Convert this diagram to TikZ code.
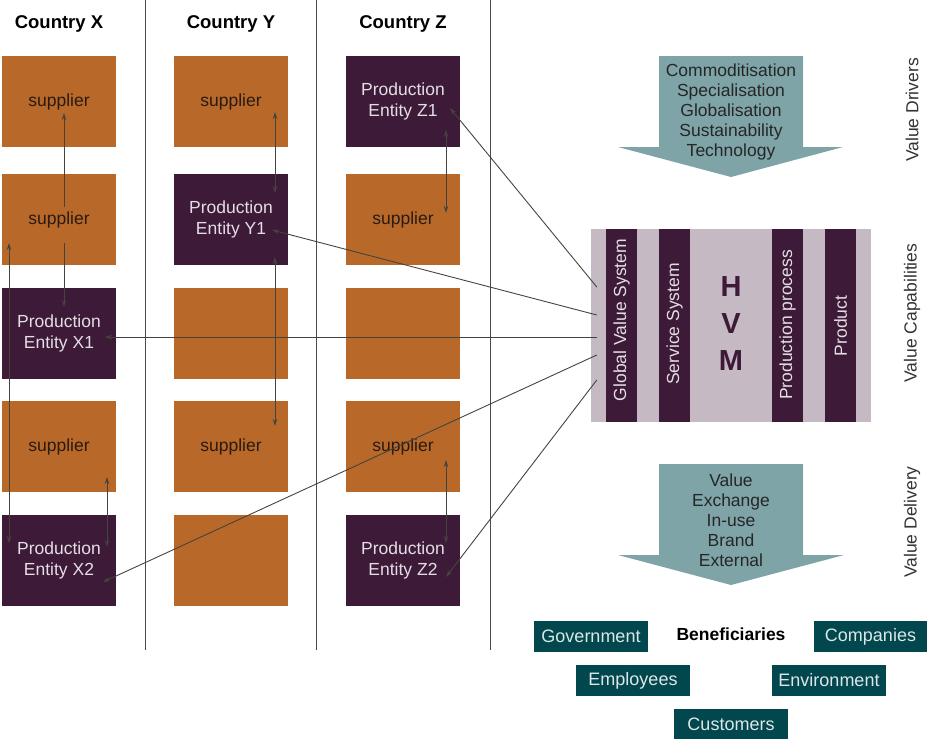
\documentclass[tikz,border=0pt]{standalone}
\usepackage{fontspec}
\setmainfont{Liberation Sans}
\usetikzlibrary{arrows.meta,calc}
\definecolor{orng}{HTML}{B8692A}
\definecolor{purp}{HTML}{3D1A38}
\definecolor{tealA}{HTML}{7FA4A8}
\definecolor{tealD}{HTML}{02464E}
\definecolor{lav}{HTML}{C5BAC3}
\definecolor{conn}{HTML}{45443C}
\definecolor{divc}{HTML}{4A4A4A}
\definecolor{supt}{HTML}{2A1A10}
\definecolor{entt}{HTML}{E4DEE4}
\definecolor{bent}{HTML}{DCE8E8}
\begin{document}
\begin{tikzpicture}[x=1pt,y=-1pt,
  base/.style={inner sep=0pt, minimum width=114pt, minimum height=91pt, align=center, font=\fontsize{17.5}{21}\selectfont},
  supbox/.style={base, fill=orng, text=supt},
  entbox/.style={base, fill=purp, text=entt},
  head/.style={font=\fontsize{18.5}{21}\selectfont\bfseries, text=black},
  side/.style={rotate=90, font=\fontsize{17.5}{20}\selectfont, text=black!80},
  stripe/.style={rotate=90, fill=purp, inner sep=0pt, minimum width=193pt, minimum height=31pt},
  stext/.style={rotate=90, text=entt, inner sep=0pt, font=\fontsize{17.5}{20}\selectfont},
  benbox/.style={fill=tealD, text=bent, inner sep=0pt, minimum width=114pt, minimum height=31pt, font=\fontsize{18}{21}\selectfont},
  atext/.style={align=center, text=black!85, font=\fontsize{17.5}{20}\selectfont},
  divider/.style={draw=divc, line width=1pt},
  one/.style={draw=conn, line width=0.9pt, -{Stealth[length=7pt,width=4.5pt]}},
  two/.style={draw=conn, line width=0.9pt, {Stealth[length=7pt,width=4.5pt]}-{Stealth[length=7pt,width=4.5pt]}}
]
\useasboundingbox (0,0) rectangle (927,742);

% dividers
\coordinate (d1t) at (145,0); \coordinate (d1b) at (145,650);
\coordinate (d2t) at (316,0); \coordinate (d2b) at (316,650);
\coordinate (d3t) at (490,0); \coordinate (d3b) at (490,650);
\draw[divider] (d1t) -- (d1b);
\draw[divider] (d2t) -- (d2b);
\draw[divider] (d3t) -- (d3b);

% headers
\node[head] (hx) at (59,24) {Country X};
\node[head] (hy) at (231,24) {Country Y};
\node[head] (hz) at (403,24) {Country Z};

% column X
\node[supbox] (s1x) at (59,101.5) {supplier};
\node[supbox] (s2x) at (59,219.5) {supplier};
\node[entbox] (ex1) at (59,333.5) {Production\\Entity X1};
\node[supbox] (s4x) at (59,446.5) {supplier};
\node[entbox] (ex2) at (59,560.5) {Production\\Entity X2};
% column Y
\node[supbox] (s1y) at (231,101.5) {supplier};
\node[entbox] (ey1) at (231,219.5) {Production\\Entity Y1};
\node[supbox] (b3y) at (231,333.5) {};
\node[supbox] (s4y) at (231,446.5) {supplier};
\node[supbox] (b5y) at (231,560.5) {};
% column Z
\node[entbox] (ez1) at (403,101.5) {Production\\Entity Z1};
\node[supbox] (s2z) at (403,219.5) {supplier};
\node[supbox] (b3z) at (403,333.5) {};
\node[supbox] (s4z) at (403,446.5) {supplier};
\node[entbox] (ez2) at (403,560.5) {Production\\Entity Z2};

% HVM panel
\node[fill=lav, inner sep=0pt, minimum width=280pt, minimum height=193pt] (hvm) at (731,325.5) {};
\node[stripe] (gvs) at (621.5,325.5) {};
\node[stripe] (svs) at (674.5,325.5) {};
\node[stripe] (ppr) at (787.5,325.5) {};
\node[stripe] (prd) at (840.5,325.5) {};
\node[stext] (gvst) at (621.5,320) {Global Value System};
\node[stext] (svst) at (674.5,324) {Service System};
\node[stext] (pprt) at (787.5,325) {Production process};
\node[stext] (prdt) at (840.5,326) {Product};
\node[font=\fontsize{29}{37}\selectfont\bfseries, text=purp, align=center] (hvmt) at (731,324) {H\\V\\M};

% value drivers arrow
\fill[tealA] (659,56) -- (803,56) -- (803,147) -- (843,147) -- (731,177) -- (618,147) -- (659,147) -- cycle;
\node[atext] (vd) at (731,112) {Commoditisation\\Specialisation\\Globalisation\\Sustainability\\Technology};
% value delivery arrow
\fill[tealA] (659,464) -- (803,464) -- (803,555) -- (844,555) -- (731,585) -- (618,555) -- (659,555) -- cycle;
\node[atext] (vdl) at (731,520) {Value\\Exchange\\In-use\\Brand\\External};

% side labels
\node[side] (sl1) at (912,110) {Value Drivers};
\node[side] (sl2) at (912,313) {Value Capabilities};
\node[side] (sl3) at (912,522) {Value Delivery};

% beneficiaries
\node[font=\fontsize{17.5}{21}\selectfont\bfseries] (ben) at (731,634) {Beneficiaries};
\node[benbox] (gov) at (591,636.5) {Government};
\node[benbox, minimum width=113pt] (comp) at (870.5,636.5) {Companies};
\node[benbox] (emp) at (633,680.5) {Employees};
\node[benbox] (env) at (829,680.5) {Environment};
\node[benbox, minimum height=30pt] (cust) at (731,724) {Customers};

% connectors within columns
\draw[one] ([xshift=5pt,yshift=12.5pt]s2x.center) -- ([xshift=5pt,yshift=-11.5pt]s1x.center);
\draw[one] ([xshift=5pt,yshift=-23.5pt]s2x.center) -- ([xshift=5pt,yshift=26.5pt]ex1.center);
\draw[two] ([xshift=-50pt,yshift=-23.5pt]s2x.center) -- ([xshift=-50pt,yshift=17.5pt]ex2.center);
\draw[two] ([xshift=48pt,yshift=-30.5pt]s4x.center) -- ([xshift=48pt,yshift=13.5pt]ex2.center);
\draw[two] ([xshift=44pt,yshift=-10.5pt]s1y.center) -- ([xshift=44pt,yshift=26.5pt]ey1.center);
\draw[two] ([xshift=44pt,yshift=-37.5pt]ey1.center) -- ([xshift=44pt,yshift=20.5pt]s4y.center);
\draw[two] ([xshift=43pt,yshift=-28.5pt]ez1.center) -- ([xshift=43pt,yshift=6.5pt]s2z.center);
\draw[two] ([xshift=43pt,yshift=-13.5pt]s4z.center) -- ([xshift=43pt,yshift=17.5pt]ez2.center);

% connectors from HVM
\draw[one] ([xshift=6pt,yshift=38.5pt]hvm.west) -- ([xshift=47pt,yshift=-6.5pt]ez1.center);
\draw[one] ([xshift=6pt,yshift=10.5pt]hvm.west) -- ([xshift=41pt,yshift=-10.5pt]ey1.center);
\draw[one] ([xshift=6pt,yshift=-11.5pt]hvm.west) -- ([xshift=46pt,yshift=-3.5pt]ex1.center);
\draw[one] ([xshift=6pt,yshift=-29.5pt]hvm.west) -- ([xshift=44pt,yshift=-21.5pt]ex2.center);
\draw[one] ([xshift=6pt,yshift=-54.5pt]hvm.west) -- ([xshift=43pt,yshift=-16.5pt]ez2.center);
\end{tikzpicture}
\end{document}
